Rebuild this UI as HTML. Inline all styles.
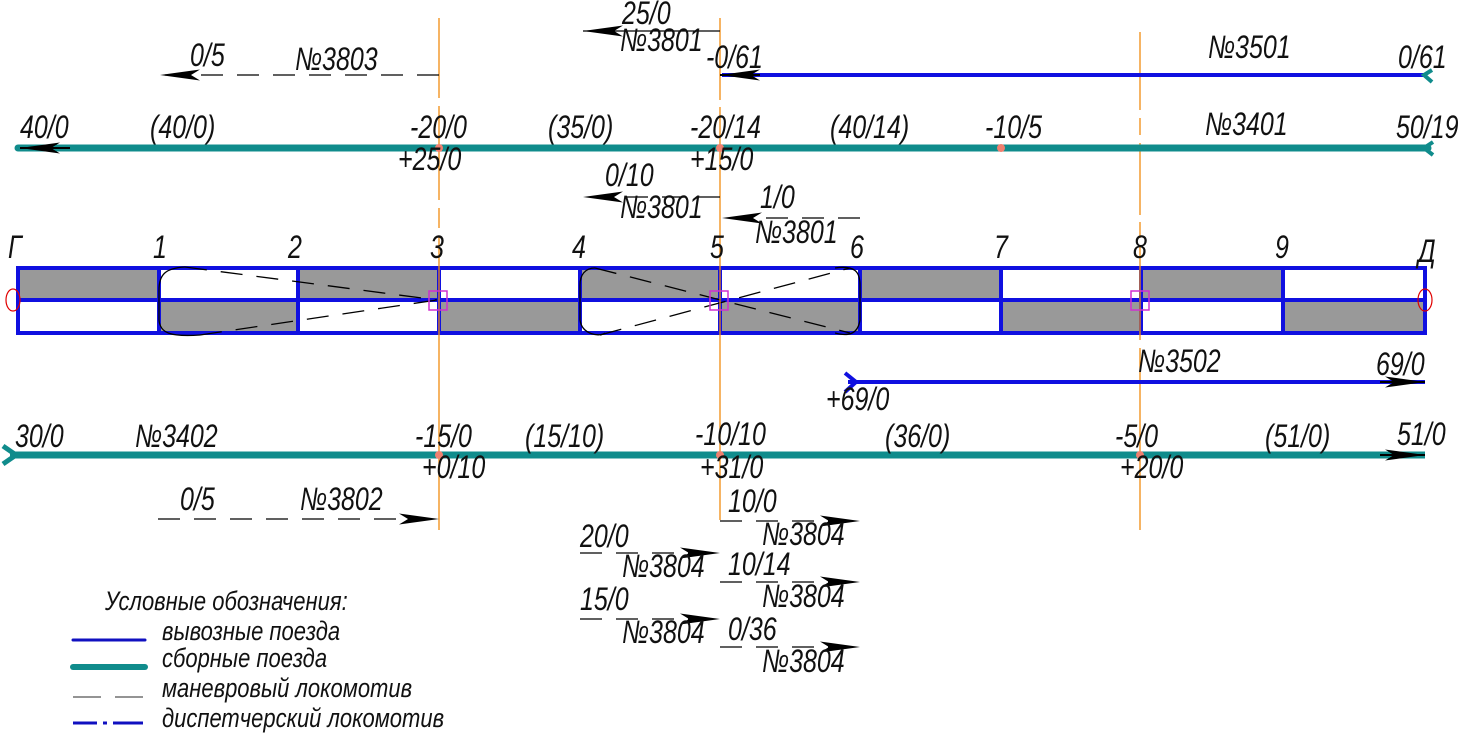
<!DOCTYPE html>
<html><head><meta charset="utf-8"><style>
html,body{margin:0;padding:0;background:#fff}
svg{display:block}
text{font-family:"Liberation Sans Narrow","Liberation Sans","DejaVu Sans",sans-serif;font-style:italic;font-size:25px;fill:#111;transform-box:fill-box;transform-origin:left 80%;transform:scaleY(1.3)}
.lg{font-size:22px;transform:scaleY(1.2)}
</style></head><body>
<svg width="1478" height="740" viewBox="0 0 1478 740" xmlns="http://www.w3.org/2000/svg">
<defs>
<marker id="ar" viewBox="0 0 40 14" refX="40" refY="7" markerWidth="40" markerHeight="14" markerUnits="userSpaceOnUse" orient="auto"><path d="M0,1.5 L40,7 L0,12.5 L9,7 Z" fill="#000"/></marker>
</defs>
<g fill="#999">
<rect x="18" y="268" width="141" height="32"/><rect x="298" y="268" width="141" height="32"/><rect x="580" y="268" width="140" height="32"/><rect x="860" y="268" width="141" height="32"/><rect x="1141" y="268" width="142" height="32"/>
<rect x="159" y="300" width="139" height="33"/><rect x="439" y="300" width="141" height="33"/><rect x="720" y="300" width="140" height="33"/><rect x="1001" y="300" width="140" height="33"/><rect x="1283" y="300" width="142" height="33"/>
</g>
<g stroke="#1010e0" stroke-width="4" fill="none">
<rect x="18" y="268" width="1407" height="65"/>
<line x1="18" y1="300" x2="1425" y2="300"/>
<line x1="159" y1="268" x2="159" y2="333"/><line x1="298" y1="268" x2="298" y2="333"/><line x1="439" y1="268" x2="439" y2="333"/><line x1="580" y1="268" x2="580" y2="333"/><line x1="720" y1="268" x2="720" y2="333"/><line x1="860" y1="268" x2="860" y2="333"/><line x1="1001" y1="268" x2="1001" y2="333"/><line x1="1141" y1="268" x2="1141" y2="333"/><line x1="1283" y1="268" x2="1283" y2="333"/>
</g>
<g stroke="#000" stroke-width="1.3" fill="none">
<path d="M185,267 L437,300" stroke-dasharray="22,14"/>
<path d="M200,335 L437,300" stroke-dasharray="22,14"/>
<path d="M185,267 C165,268 159,275 159,290 L159,320 C160,333 170,337 200,335"/>
<path d="M595,268 L850,333" stroke-dasharray="22,14"/>
<path d="M600,335 L850,268" stroke-dasharray="22,14"/>
<path d="M595,268 C585,268 580,275 580,285 L580,320 C582,335 600,337 605,333"/>
<path d="M835,268 C855,265 860,272 860,285 L860,320 C858,333 850,337 835,333"/>
</g>
<g stroke="#f08c10" stroke-width="1.3">
<line x1="439" y1="18" x2="439" y2="98"/><line x1="439" y1="106" x2="439" y2="200"/><line x1="439" y1="208" x2="439" y2="228"/><line x1="439" y1="236" x2="439" y2="530"/>
<line x1="720" y1="18" x2="720" y2="100"/><line x1="720" y1="107" x2="720" y2="520"/>
<line x1="1140" y1="32" x2="1140" y2="110"/><line x1="1140" y1="118" x2="1140" y2="135"/><line x1="1140" y1="143" x2="1140" y2="215"/><line x1="1140" y1="222" x2="1140" y2="238"/><line x1="1140" y1="245" x2="1140" y2="340"/><line x1="1140" y1="348" x2="1140" y2="530"/>
</g>
<g fill="none" stroke="#d030d0" stroke-width="1.5"><rect x="429" y="291" width="18" height="19"/><rect x="710" y="291" width="18" height="19"/><rect x="1131" y="291" width="18" height="19"/></g>
<g fill="none" stroke="#e00000" stroke-width="1.2"><ellipse cx="13" cy="300" rx="7" ry="11"/><ellipse cx="1425" cy="300" rx="7" ry="11"/></g>
<line x1="722" y1="75" x2="1425" y2="75" stroke="#1010e0" stroke-width="4"/>
<line x1="760" y1="75" x2="720" y2="75" stroke="#000" stroke-width="2" marker-end="url(#ar)"/>
<path d="M1432,70 L1424,75 L1432,82" stroke="#108c8c" stroke-width="4" fill="none"/>
<line x1="18" y1="148" x2="1428" y2="148" stroke="#108c8c" stroke-width="7" stroke-linecap="round"/>
<path d="M1433,142 L1424,148 L1433,155" stroke="#108c8c" stroke-width="4" fill="none"/>
<line x1="70" y1="148" x2="20" y2="148" stroke="#000" stroke-width="2" marker-end="url(#ar)"/>
<line x1="848" y1="382" x2="1425" y2="382" stroke="#1010e0" stroke-width="4"/>
<path d="M845,373 L856,382 L845,392" stroke="#1010e0" stroke-width="4" fill="none"/>
<line x1="1380" y1="382" x2="1425" y2="382" stroke="#000" stroke-width="2" marker-end="url(#ar)"/>
<line x1="10" y1="455" x2="1425" y2="455" stroke="#108c8c" stroke-width="7"/>
<path d="M3,446 L16,455 L3,464" stroke="#108c8c" stroke-width="5" fill="none"/>
<line x1="1380" y1="455" x2="1425" y2="455" stroke="#000" stroke-width="2" marker-end="url(#ar)"/>
<g fill="#f08070"><circle cx="439" cy="148" r="4"/><circle cx="720" cy="148" r="4"/><circle cx="1001" cy="148" r="4"/><circle cx="439" cy="455" r="4"/><circle cx="720" cy="455" r="4"/><circle cx="1140" cy="455" r="4"/></g>
<g stroke="#000" stroke-width="1.3" fill="none">
<line x1="720" y1="31" x2="583" y2="31" marker-end="url(#ar)"/>
<line x1="439" y1="75" x2="160" y2="75" stroke-dasharray="22,14" marker-end="url(#ar)"/>
<line x1="720" y1="197" x2="583" y2="197" stroke-dasharray="22,14" marker-end="url(#ar)"/>
<line x1="860" y1="218" x2="722" y2="218" stroke-dasharray="22,14" marker-end="url(#ar)"/>
<line x1="158" y1="519" x2="439" y2="519" stroke-dasharray="22,14" marker-end="url(#ar)"/>
<line x1="720" y1="521" x2="860" y2="521" stroke-dasharray="22,14" marker-end="url(#ar)"/>
<line x1="580" y1="553" x2="720" y2="553" stroke-dasharray="22,14" marker-end="url(#ar)"/>
<line x1="720" y1="582" x2="860" y2="582" stroke-dasharray="22,14" marker-end="url(#ar)"/>
<line x1="580" y1="619" x2="720" y2="619" stroke-dasharray="22,14" marker-end="url(#ar)"/>
<line x1="720" y1="647" x2="860" y2="647" stroke-dasharray="22,14" marker-end="url(#ar)"/>
</g>
<text x="622" y="24">25/0</text><text x="620" y="51">№3801</text>
<text x="190" y="66">0/5</text><text x="295" y="70">№3803</text>
<text x="706" y="68">-0/61</text><text x="1208" y="58">№3501</text><text x="1398" y="68">0/61</text>
<text x="20" y="138">40/0</text><text x="150" y="138">(40/0)</text><text x="410" y="138">-20/0</text><text x="548" y="138">(35/0)</text><text x="690" y="138">-20/14</text><text x="830" y="138">(40/14)</text><text x="985" y="138">-10/5</text><text x="1205" y="135">№3401</text><text x="1396" y="138">50/19</text>
<text x="398" y="170">+25/0</text><text x="690" y="170">+15/0</text>
<text x="605" y="186">0/10</text><text x="620" y="218">№3801</text>
<text x="760" y="208">1/0</text><text x="755" y="243">№3801</text>
<text x="8" y="258">Г</text><text x="153" y="258">1</text><text x="288" y="258">2</text><text x="430" y="258">3</text><text x="572" y="258">4</text><text x="710" y="258">5</text><text x="850" y="258">6</text><text x="994" y="258">7</text><text x="1133" y="258">8</text><text x="1275" y="258">9</text><text x="1418" y="262">Д</text>
<text x="1138" y="372">№3502</text><text x="1376" y="375">69/0</text><text x="826" y="410">+69/0</text>
<text x="15" y="447">30/0</text><text x="135" y="447">№3402</text><text x="415" y="447">-15/0</text><text x="525" y="447">(15/10)</text><text x="695" y="445">-10/10</text><text x="885" y="447">(36/0)</text><text x="1115" y="447">-5/0</text><text x="1265" y="447">(51/0)</text><text x="1397" y="445">51/0</text>
<text x="422" y="478">+0/10</text><text x="700" y="478">+31/0</text><text x="1120" y="478">+20/0</text>
<text x="180" y="510">0/5</text><text x="300" y="510">№3802</text>
<text x="728" y="512">10/0</text><text x="762" y="545">№3804</text>
<text x="580" y="547">20/0</text><text x="622" y="577">№3804</text>
<text x="728" y="575">10/14</text><text x="762" y="607">№3804</text>
<text x="580" y="610">15/0</text><text x="622" y="643">№3804</text>
<text x="728" y="640">0/36</text><text x="762" y="672">№3804</text>
<text class="lg" x="105" y="610">Условные обозначения:</text>
<line x1="73" y1="640" x2="145" y2="640" stroke="#1010c0" stroke-width="3" stroke-linecap="round"/>
<line x1="73" y1="667" x2="145" y2="667" stroke="#108c8c" stroke-width="6" stroke-linecap="round"/>
<line x1="73" y1="697" x2="145" y2="697" stroke="#555" stroke-width="1.3" stroke-dasharray="28,14"/>
<line x1="73" y1="723" x2="145" y2="723" stroke="#1010c0" stroke-width="3" stroke-dasharray="24,6,4,6,30"/>
<text class="lg" x="162" y="640">вывозные поезда</text>
<text class="lg" x="162" y="667">сборные поезда</text>
<text class="lg" x="162" y="697">маневровый локомотив</text>
<text class="lg" x="162" y="727">диспетчерский локомотив</text>
</svg>
</body></html>
